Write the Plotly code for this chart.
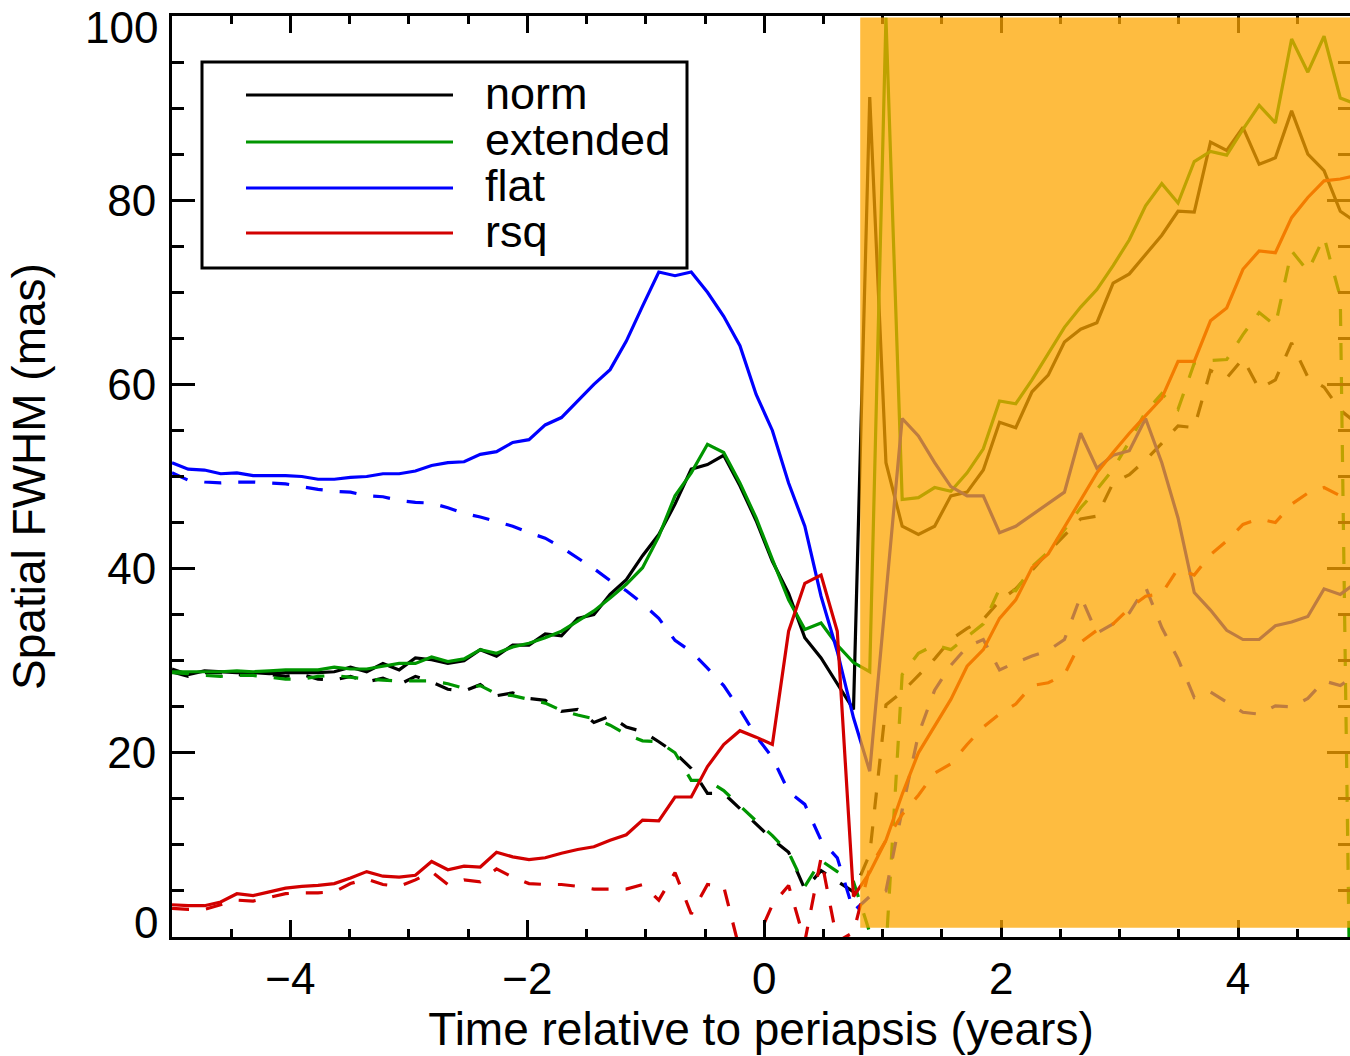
import numpy as np
import plotly.graph_objects as go

# Model epochs: years relative to periapsis
time_yr = np.linspace(-5.0, 5.0, 74)

# Spatial FWHM (mas) per emission model; solid = first estimate, dashed = second estimate
norm_solid = [29.1, 28.5, 28.9, 28.8, 28.7, 28.7, 28.6, 28.7, 28.7, 28.7,
              28.8, 29.3, 28.8, 29.7, 29.0, 30.3, 30.1, 29.7, 30.0, 31.2,
              30.5, 31.7, 31.7, 32.9, 32.7, 34.6, 35.0, 37.2, 38.8, 41.4,
              43.7, 47.0, 50.8, 51.3, 52.3, 49.0, 45.2, 40.8, 37.3, 32.5,
              30.3, 27.5, 24.7, 91.2, 51.5, 44.6, 43.7, 44.6, 47.9, 48.3,
              50.7, 55.9, 55.3, 59.2, 61.0, 64.6, 66.0, 66.7, 71.0, 72.0,
              74.1, 76.2, 78.8, 78.7, 86.3, 85.4, 87.9, 83.9, 84.6, 89.7,
              85.0, 83.2, 78.8, 77.6]
norm_dashed = [28.8, 28.3, 28.7, 28.7, 28.5, 28.4, 28.5, 28.3, 28.5, 28.0,
               27.9, 28.3, 27.7, 28.1, 27.4, 28.3, 27.7, 26.9, 26.7, 27.4,
               26.2, 26.5, 25.9, 25.7, 24.5, 24.7, 23.3, 24.0, 22.8, 22.3,
               21.2, 20.0, 18.3, 15.6, 15.6, 13.9, 12.2, 10.6, 9.2, 5.2,
               7.2, 6.0, 4.9, 9.0, 25.2, 26.6, 28.4, 30.2, 32.3, 33.5,
               34.5, 36.5, 37.8, 39.8, 41.8, 43.6, 45.4, 45.7, 49.3, 50.2,
               51.8, 53.6, 55.5, 55.3, 61.5, 60.7, 62.8, 59.5, 60.5, 64.5,
               60.8, 59.7, 57.2, 55.8]
extended_solid = [28.8, 28.8, 28.8, 28.8, 28.9, 28.8, 28.9, 29.0, 29.0, 29.0,
                  29.3, 29.1, 29.1, 29.4, 29.7, 29.7, 30.4, 29.9, 30.2, 31.2,
                  30.8, 31.5, 31.9, 32.5, 33.2, 34.3, 35.4, 36.8, 38.3, 40.1,
                  43.5, 47.9, 50.4, 53.5, 52.6, 49.3, 45.5, 41.0, 36.6, 33.4,
                  34.1, 31.7, 29.8, 28.8, 99.8, 47.5, 47.7, 48.8, 48.4, 50.4,
                  53.0, 58.2, 57.9, 60.5, 63.4, 66.2, 68.4, 70.3, 72.9, 75.7,
                  79.4, 81.8, 79.7, 84.2, 85.3, 84.9, 87.7, 90.3, 88.4, 97.5,
                  93.9, 97.8, 91.1, 90.4]
extended_dashed = [28.7, 28.6, 28.4, 28.3, 28.4, 28.4, 28.2, 28.0, 28.0, 28.3,
                   28.4, 28.2, 28.0, 27.9, 27.8, 27.8, 27.8, 27.5, 27.0, 27.3,
                   26.4, 26.2, 25.8, 25.4, 24.6, 24.1, 23.7, 23.0, 22.0, 21.3,
                   21.2, 20.0, 17.0, 17.0, 15.9, 14.2, 12.6, 11.0, 9.2, 5.5,
                   8.3, 7.1, 6.0, 0.5, -1.5, 28.5, 30.8, 31.7, 31.2, 32.6,
                   34.0, 37.8, 37.6, 40.2, 41.8, 44.2, 46.6, 48.6, 50.8, 53.8,
                   57.0, 59.0, 57.3, 62.3, 62.6, 62.7, 65.4, 67.8, 66.4, 74.5,
                   72.3, 76.0, 69.5, -60.0]
flat_solid = [51.5, 50.8, 50.7, 50.3, 50.4, 50.1, 50.1, 50.1, 50.0, 49.7,
              49.7, 49.9, 50.0, 50.3, 50.3, 50.6, 51.2, 51.5, 51.6, 52.4,
              52.7, 53.7, 54.0, 55.6, 56.4, 58.2, 60.0, 61.6, 64.7, 68.5,
              72.2, 71.8, 72.2, 70.0, 67.4, 64.2, 58.9, 55.0, 49.3, 44.6,
              37.0, 31.0, 23.8, 18.0, 37.0, 56.3, 54.4, 51.5, 48.9, 47.9,
              47.9, 43.9, 44.6, 45.8, 47.0, 48.3, 54.7, 50.9, 52.3, 52.8,
              56.3, 51.5, 45.5, 37.4, 35.5, 33.3, 32.3, 32.3, 33.8, 34.2,
              34.8, 37.8, 37.2, 38.5]
flat_dashed = [50.4, 49.6, 49.4, 49.3, 49.4, 49.4, 49.3, 49.2, 48.9, 48.6,
               48.4, 48.3, 47.9, 47.8, 47.4, 47.2, 47.1, 46.6, 46.0, 45.6,
               45.1, 44.6, 43.9, 43.3, 42.3, 41.2, 40.0, 38.7, 37.6, 36.2,
               34.6, 32.2, 31.0, 29.2, 27.3, 24.7, 21.8, 19.5, 15.8, 14.4,
               10.5, 8.6, 2.8, 4.4, 5.0, 13.8, 22.0, 26.8, 29.5, 31.5,
               32.3, 29.0, 29.8, 30.5, 31.1, 32.3, 37.0, 33.0, 34.0, 35.2,
               38.0, 33.6, 30.2, 26.0, 26.6, 25.5, 24.4, 24.2, 25.1, 25.0,
               25.9, 27.8, 27.3, 28.5]
rsq_solid = [3.5, 3.4, 3.4, 3.8, 4.7, 4.5, 4.9, 5.3, 5.5, 5.6,
             5.8, 6.4, 7.1, 6.6, 6.5, 6.7, 8.2, 7.3, 7.7, 7.6,
             9.2, 8.7, 8.4, 8.6, 9.1, 9.5, 9.8, 10.5, 11.1, 12.7,
             12.6, 15.2, 15.2, 18.5, 20.9, 22.4, 21.7, 20.9, 33.2, 38.4,
             39.3, 33.2, 4.4, 7.0, 10.5, 15.5, 20.0, 22.9, 25.8, 29.4,
             31.2, 34.6, 36.6, 40.1, 41.6, 44.5, 47.5, 50.4, 52.6, 54.7,
             56.6, 58.5, 62.5, 62.5, 66.9, 68.3, 72.5, 74.5, 74.3, 78.1,
             80.3, 82.1, 82.3, 82.7]
rsq_dashed = [3.1, 3.0, 3.0, 3.5, 4.0, 3.9, 4.3, 4.7, 4.8, 4.8,
              4.9, 5.8, 6.3, 5.7, 5.5, 6.2, 7.1, 5.7, 6.2, 6.0,
              7.4, 6.5, 5.8, 5.7, 5.7, 5.5, 5.2, 5.2, 5.2, 5.7,
              4.0, 7.0, 2.5, 5.7, 5.5, -1.5, -0.5, 3.5, 5.6, -0.5,
              8.6, -0.5, 0.5, 7.5, 10.5, 13.3, 15.4, 17.8, 18.8, 20.9,
              22.8, 24.2, 25.3, 27.3, 27.6, 28.5, 32.0, 33.3, 34.0, 35.7,
              37.0, 37.3, 40.0, 39.3, 41.5, 43.0, 44.8, 45.4, 45.0, 47.0,
              48.2, 48.8, 47.9, 46.8]

model_names = ["norm", "extended", "flat", "rsq"]
model_colors = ["rgb(0,0,0)", "rgb(0,150,0)", "rgb(0,0,255)", "rgb(210,0,0)"]
x_tick_vals = [-4, -2, 0, 2, 4]
y_tick_vals = [0, 20, 40, 60, 80, 100]
y_tick_text = ["0", "20", "40", "60", "80", "100"]

# Shaded epoch interval after periapsis
shade_start, shade_end = 0.81, 5.0

FONT = "Liberation Sans, Arial, Helvetica, sans-serif"
W, H = 1350, 1056
M_L, M_R, M_T, M_B = 172, 0, 16, 119
X_RANGE = [-5.0, 4.945]
Y_RANGE = [0.0, 100.0]

series = [
    (norm_solid, norm_dashed),
    (extended_solid, extended_dashed),
    (flat_solid, flat_dashed),
    (rsq_solid, rsq_dashed),
]

fig = go.Figure()
for name, color, (solid, dashed) in zip(model_names, model_colors, series):
    fig.add_trace(go.Scatter(x=time_yr, y=solid, mode="lines", name=name,
                             line=dict(color=color, width=3.2),
                             showlegend=False))
    fig.add_trace(go.Scatter(x=time_yr, y=dashed, mode="lines", name=name + " (2)",
                             line=dict(color=color, width=3.2, dash="17px,17px"),
                             showlegend=False))

# Translucent highlight over the post-periapsis epochs
fig.add_shape(type="rect", xref="x", yref="y",
              x0=shade_start, x1=shade_end, y0=1.0, y1=99.85,
              fillcolor="rgba(253,165,0,0.75)", line=dict(width=0),
              layer="above")


def px_to_paper(px, py):
    pw = W - M_L - M_R
    ph = H - M_T - M_B
    return (px - M_L) / pw, (H - M_B - py) / ph


# Legend box with long line samples
bx0, by0 = px_to_paper(202, 268)
bx1, by1 = px_to_paper(687, 62)
fig.add_shape(type="rect", xref="paper", yref="paper",
              x0=bx0, y0=by0, x1=bx1, y1=by1,
              line=dict(color="black", width=3), fillcolor="white",
              layer="above")
entry_rows = [95, 142, 188, 233]
for name, color, row in zip(model_names, model_colors, entry_rows):
    lx0, ly = px_to_paper(246, row)
    lx1, _ = px_to_paper(453, row)
    fig.add_shape(type="line", xref="paper", yref="paper",
                  x0=lx0, x1=lx1, y0=ly, y1=ly,
                  line=dict(color=color, width=3), layer="above")
    tx, ty = px_to_paper(483, row - 2)
    fig.add_annotation(xref="paper", yref="paper", x=tx, y=ty,
                       text=name, showarrow=False,
                       xanchor="left", yanchor="middle",
                       font=dict(family=FONT, size=45, color="black"))

# End labels of the y axis sit just inside the frame
for val, label, py in [(0, y_tick_text[0], 922), (100, y_tick_text[-1], 27)]:
    lx, ly = px_to_paper(160, py)
    fig.add_annotation(xref="paper", yref="paper", x=lx, y=ly,
                       text=label, showarrow=False,
                       xanchor="right", yanchor="middle",
                       font=dict(family=FONT, size=44, color="black"))

axis_common = dict(
    showline=True, linecolor="black", linewidth=3, mirror="ticks",
    ticks="inside", tickcolor="black", tickwidth=2.5,
    showgrid=False, zeroline=False,
    tickfont=dict(family=FONT, size=44, color="black"),
)

fig.update_xaxes(
    range=X_RANGE, tickmode="array", tickvals=x_tick_vals, ticklen=17,
    minor=dict(ticks="inside", ticklen=8, tickwidth=2.5, tickcolor="black",
               dtick=0.5, tick0=0, showgrid=False),
    title=dict(text="Time relative to periapsis (years)",
               font=dict(family=FONT, size=46, color="black"), standoff=9),
    ticklabelstandoff=1,
    **axis_common,
)
fig.update_yaxes(
    range=Y_RANGE, tickmode="array", tickvals=y_tick_vals,
    ticktext=[""] + y_tick_text[1:-1] + [""], ticklen=23,
    minor=dict(ticks="inside", ticklen=12, tickwidth=2.5, tickcolor="black",
               dtick=5, tick0=0, showgrid=False),
    title=dict(text="Spatial FWHM (mas)",
               font=dict(family=FONT, size=46, color="black"), standoff=48),
    ticklabelstandoff=4,
    **axis_common,
)

fig.update_layout(
    width=W, height=H,
    margin=dict(l=M_L, r=M_R, t=M_T, b=M_B, autoexpand=False),
    paper_bgcolor="white", plot_bgcolor="white",
    showlegend=False,
    font=dict(family=FONT, color="black"),
)

fig.write_html("out.html")
